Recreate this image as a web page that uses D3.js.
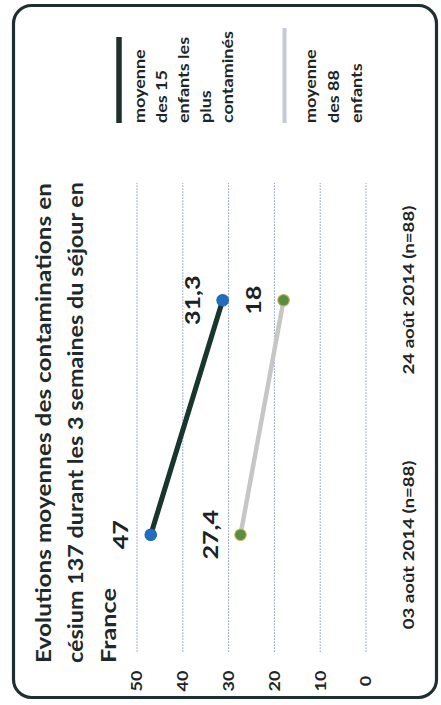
<!DOCTYPE html>
<html>
<head>
<meta charset="utf-8">
<script src="https://cdn.jsdelivr.net/npm/d3@7"></script>
<style>
  html, body { margin: 0; padding: 0; background: #fff; }
  svg text { font-family: Lato, "Open Sans", sans-serif; font-weight: 700; }
</style>
</head>
<body>
<svg id="chart" width="441" height="705"></svg>
<script>
// Series
const categories = ["03 août 2014 (n=88)", "24 août 2014 (n=88)"];
const top15 = [47, 31.3];   // moyenne des 15 enfants les plus contaminés
const all88 = [27.4, 18];   // moyenne des 88 enfants
const valueTicks = [0, 10, 20, 30, 40, 50];
const titleLines = [
  "Evolutions moyennes des contaminations en",
  "césium 137 durant les 3 semaines du séjour en",
  "France"
];
const legendTop15 = ["moyenne", "des 15", "enfants les", "plus", "contaminés"];
const legendAll88 = ["moyenne", "des 88", "enfants"];

const W = 441, H = 705;
const SX = 1.2; // horizontal stretch of the rotated frame

const svg = d3.select("#chart");

// rounded frame
svg.append("rect")
  .attr("x", 13.5).attr("y", 5.5)
  .attr("width", 423).attr("height", 692)
  .attr("rx", 18).attr("ry", 18)
  .attr("fill", "#fff")
  .attr("stroke", "#1f2e2e")
  .attr("stroke-width", 3.2);

// the chart is laid out in its own frame, then turned a quarter turn
const g = svg.append("g")
  .attr("transform", `translate(0,${H}) rotate(-90) scale(${SX},1)`);

const plotLeft = (H - 652) / SX;
const plotRight = (H - 183) / SX;

const x = d3.scalePoint().domain(categories).range([plotLeft, plotRight]).padding(0.5);
// category labels sit a little further apart than the points
const xLabel = d3.scalePoint().domain(categories).range([plotLeft, plotRight]).padding(0.42);
const y = d3.scaleLinear().domain([0, 50]).range([366, 137]);

// gridlines
g.append("g")
  .selectAll("line")
  .data(valueTicks)
  .join("line")
  .attr("x1", plotLeft).attr("x2", plotRight)
  .attr("y1", d => y(d)).attr("y2", d => y(d))
  .attr("stroke", "#93a6c2")
  .attr("stroke-width", 1)
  .attr("stroke-dasharray", "1.5,1");

// value tick labels
g.append("g")
  .selectAll("text")
  .data(valueTicks)
  .join("text")
  .attr("x", (H - 681) / SX)
  .attr("y", d => y(d))
  .attr("dy", "0.36em")
  .attr("text-anchor", "middle")
  .attr("font-size", 15)
  .attr("fill", "#1d2626")
  .text(d => d);

// category labels
g.append("g")
  .selectAll("text")
  .data(categories)
  .join("text")
  .attr("x", d => xLabel(d))
  .attr("y", 414)
  .attr("text-anchor", "middle")
  .attr("font-size", 15.5)
  .attr("fill", "#1d2626")
  .text(d => d);

// title
const titleLen = [480 / SX, 481 / SX, null];
g.append("g")
  .selectAll("text")
  .data(titleLines)
  .join("text")
  .attr("x", (H - 663) / SX)
  .attr("y", (d, i) => 51 + i * 32.5)
  .attr("font-size", 21)
  .attr("fill", "#1e2a2a")
  .each(function (d, i) {
    if (titleLen[i]) {
      d3.select(this)
        .attr("textLength", titleLen[i])
        .attr("lengthAdjust", "spacingAndGlyphs");
    }
  })
  .text(d => d);

const line = d3.line()
  .x((d, i) => x(categories[i]))
  .y(d => y(d));

const fmt = v => String(v).replace(".", ",");

function drawSeries(values, lineColor, lineWidth, dotFill, dotStroke) {
  g.append("path")
    .datum(values)
    .attr("d", line)
    .attr("fill", "none")
    .attr("stroke", lineColor)
    .attr("stroke-width", lineWidth)
    .attr("stroke-linecap", "round");
  g.append("g")
    .selectAll("circle")
    .data(values)
    .join("circle")
    .attr("cx", (d, i) => x(categories[i]))
    .attr("cy", d => y(d))
    .attr("r", 5.8)
    .attr("transform", (d, i) => {
      // keep the dots round inside the stretched frame
      const cx = x(categories[i]), cy = y(d);
      return `translate(${cx},${cy}) scale(${1 / SX},1) translate(${-cx},${-cy})`;
    })
    .attr("fill", dotFill)
    .attr("stroke", dotStroke)
    .attr("stroke-width", 1);
  g.append("g")
    .selectAll("text")
    .data(values)
    .join("text")
    .attr("x", (d, i) => x(categories[i]))
    .attr("y", d => y(d) - 30)
    .attr("dy", "0.36em")
    .attr("text-anchor", "middle")
    .attr("font-size", 21)
    .attr("fill", "#1b2222")
    .text(fmt);
}

drawSeries(all88, "#c6c6c6", 4.5, "#5b8c43", "#c9b955");
drawSeries(top15, "#18352e", 5, "#1f6fc4", "#2b62a8");

// legend
const legX = (H - 123) / SX;
function legendEntry(lines, barY, barEndPageY, barColor, barWidth, firstBaseline, step) {
  g.append("line")
    .attr("x1", legX).attr("x2", (H - barEndPageY) / SX)
    .attr("y1", barY).attr("y2", barY)
    .attr("stroke", barColor)
    .attr("stroke-width", barWidth);
  g.append("g")
    .selectAll("text")
    .data(lines)
    .join("text")
    .attr("x", legX)
    .attr("y", (d, i) => firstBaseline + i * step)
    .attr("font-size", 15)
    .attr("fill", "#1d2626")
    .text(d => d);
}
legendEntry(legendTop15, 119, 37, "#1f302c", 5.5, 145, 22);
legendEntry(legendAll88, 284.5, 28, "#c3cbd6", 4, 316, 23);
</script>
</body>
</html>
